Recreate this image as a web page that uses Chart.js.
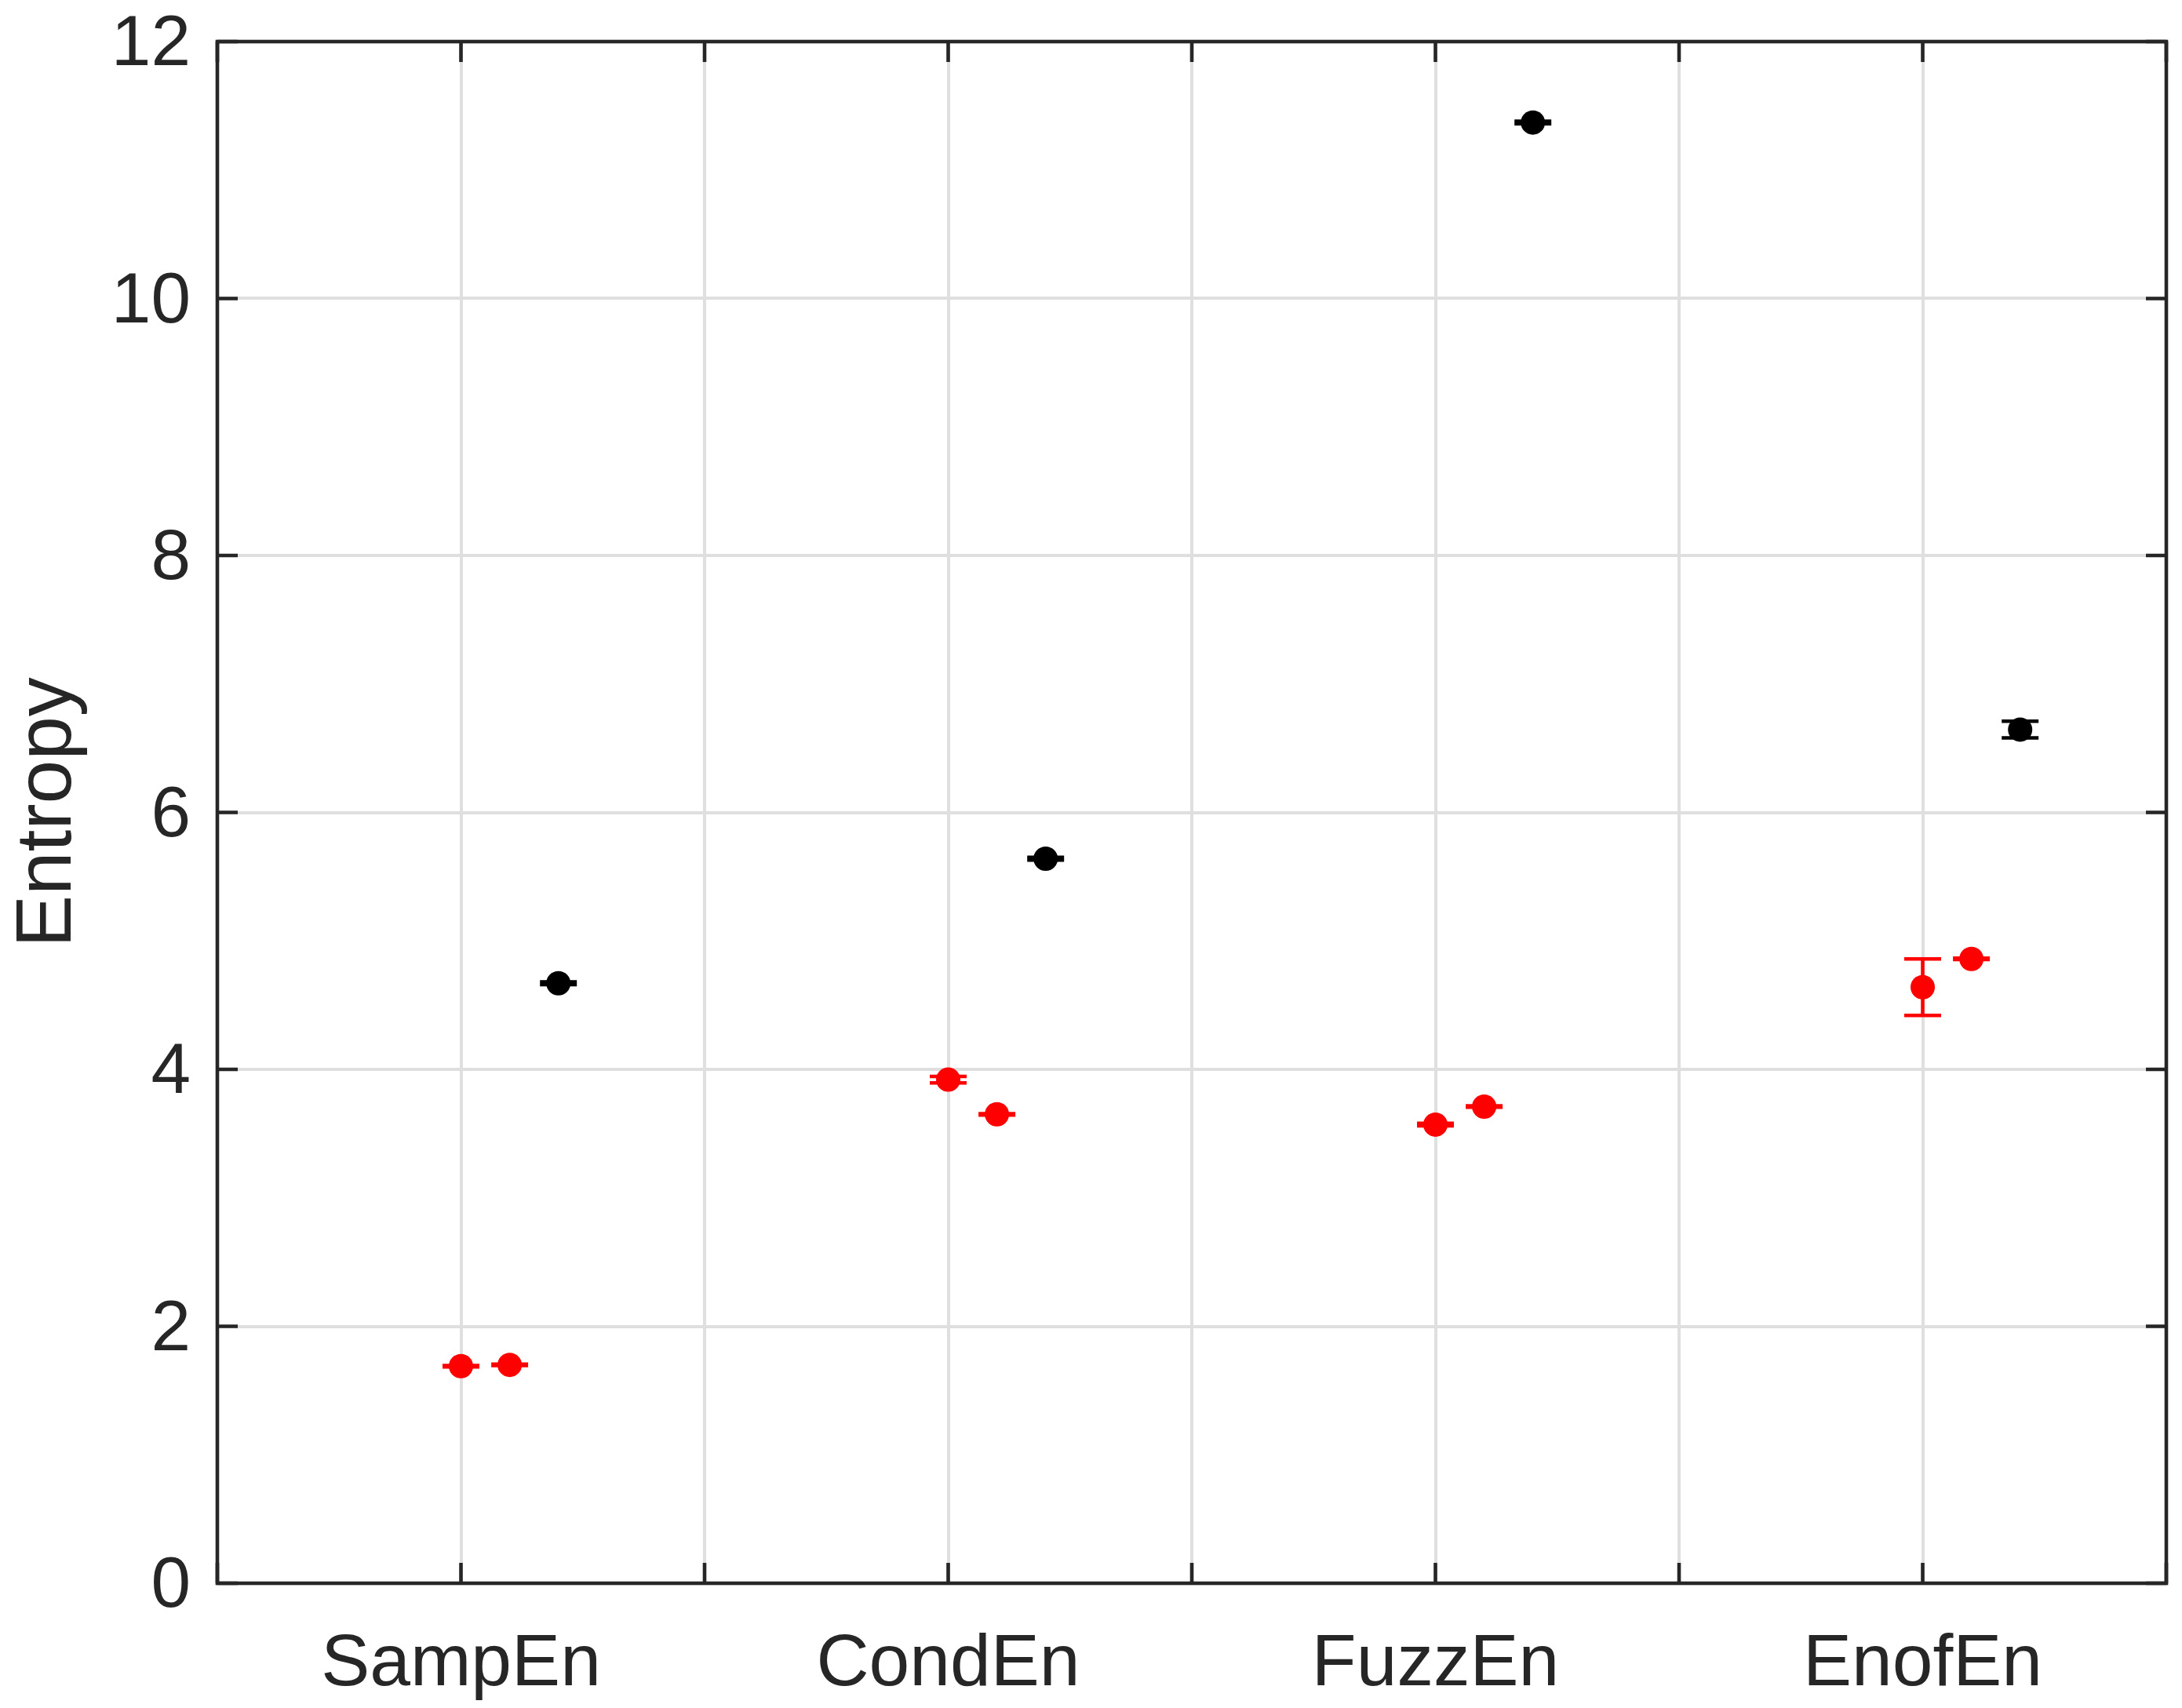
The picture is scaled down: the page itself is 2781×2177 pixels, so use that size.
<!DOCTYPE html>
<html>
<head>
<meta charset="utf-8">
<script src="https://cdn.jsdelivr.net/npm/chart.js@4.4.1/dist/chart.umd.min.js"></script>
<style>
  html, body { margin: 0; padding: 0; background: #ffffff; }
  #wrap { width: 2781px; height: 2177px; }
</style>
</head>
<body>
<div id="wrap"><canvas id="c" width="2781" height="2177"></canvas></div>
<script>
// ---- data ----
const categories = ['SampEn', 'CondEn', 'FuzzEn', 'EnofEn'];
const redAMean = [1.69, 3.92, 3.57, 4.64];
const redAErr  = [0.005, 0.025, 0.01, 0.22];
const redBMean = [1.70, 3.65, 3.71, 4.86];
const redBErr  = [0.005, 0.005, 0.005, 0.005];
const blackMean = [4.67, 5.64, 11.37, 6.645];
const blackErr  = [0.01, 0.01, 0.01, 0.065];
const seriesOffsets = [0, 0.1, 0.2];
const yTickValues = [0, 2, 4, 6, 8, 10, 12];

const AXIS_COLOR = '#262626';
const FONT = '"Liberation Sans", Arial, Helvetica, sans-serif';

function toPoints(means, offset) {
  return means.map((v, i) => ({ x: i + 1 + offset, y: v }));
}

const datasets = [
  { label: 'A', data: toPoints(redAMean, seriesOffsets[0]), errors: redAErr, color: '#ff0000' },
  { label: 'B', data: toPoints(redBMean, seriesOffsets[1]), errors: redBErr, color: '#ff0000' },
  { label: 'C', data: toPoints(blackMean, seriesOffsets[2]), errors: blackErr, color: '#000000' }
].map(d => ({
  label: d.label,
  data: d.data,
  errors: d.errors,
  backgroundColor: d.color,
  borderColor: d.color,
  pointRadius: 15.5,
  pointHoverRadius: 15.5,
  borderWidth: 0,
  showLine: false
}));

const errorBarPlugin = {
  id: 'errorBars',
  beforeDatasetsDraw(chart) {
    const ctx = chart.ctx;
    const xs = chart.scales.x, ys = chart.scales.y;
    const capHalf = 23.5;
    ctx.save();
    ctx.lineWidth = 4.6;
    ctx.lineCap = 'butt';
    chart.data.datasets.forEach(ds => {
      ctx.strokeStyle = ds.borderColor;
      ds.data.forEach((p, i) => {
        const e = ds.errors[i];
        const px = xs.getPixelForValue(p.x);
        const top = ys.getPixelForValue(p.y + e);
        const bot = ys.getPixelForValue(p.y - e);
        ctx.beginPath();
        ctx.moveTo(px, top); ctx.lineTo(px, bot);
        ctx.moveTo(px - capHalf, top); ctx.lineTo(px + capHalf, top);
        ctx.moveTo(px - capHalf, bot); ctx.lineTo(px + capHalf, bot);
        ctx.stroke();
      });
    });
    ctx.restore();
  }
};

const boxPlugin = {
  id: 'boxTicks',
  afterDraw(chart) {
    const ctx = chart.ctx;
    const a = chart.chartArea;
    const xs = chart.scales.x, ys = chart.scales.y;
    const tl = 26;
    ctx.save();
    ctx.strokeStyle = AXIS_COLOR;
    ctx.lineWidth = 4.6;
    ctx.lineCap = 'butt';
    ctx.beginPath();
    xs.ticks.forEach(t => {
      const px = xs.getPixelForValue(t.value);
      ctx.moveTo(px, a.bottom); ctx.lineTo(px, a.bottom - tl);
      ctx.moveTo(px, a.top); ctx.lineTo(px, a.top + tl);
    });
    ys.ticks.forEach(t => {
      const py = ys.getPixelForValue(t.value);
      ctx.moveTo(a.left, py); ctx.lineTo(a.left + tl, py);
      ctx.moveTo(a.right, py); ctx.lineTo(a.right - tl, py);
    });
    ctx.stroke();
    ctx.lineJoin = 'miter';
    ctx.strokeRect(a.left, a.top, a.right - a.left, a.bottom - a.top);
    ctx.restore();
  }
};

function zeroPad(s) {
  s.paddingTop = 0; s.paddingBottom = 0; s.paddingLeft = 0; s.paddingRight = 0;
}

new Chart(document.getElementById('c'), {
  type: 'scatter',
  data: { datasets },
  plugins: [errorBarPlugin, boxPlugin],
  options: {
    responsive: false,
    animation: false,
    devicePixelRatio: 1,
    layout: { padding: { left: 0, right: 20, top: 53, bottom: 0 } },
    plugins: { legend: { display: false }, tooltip: { enabled: false } },
    scales: {
      x: {
        type: 'linear',
        min: 0.5, max: 4.5,
        afterFit(s) { s.height = 159; zeroPad(s); },
        afterBuildTicks(s) {
          const t = [];
          for (let v = 0.5; v <= 4.5 + 1e-9; v += 0.5) t.push({ value: v });
          s.ticks = t;
        },
        grid: { color: '#dfdfdf', lineWidth: 4, drawTicks: false },
        border: { display: false },
        ticks: {
          autoSkip: false, maxRotation: 0, minRotation: 0,
          padding: 49,
          color: AXIS_COLOR,
          font: { family: FONT, size: 93, lineHeight: 1.2 },
          callback(v) {
            const i = Math.round(v);
            return Math.abs(v - i) < 1e-6 && i >= 1 && i <= categories.length ? categories[i - 1] : '';
          }
        }
      },
      y: {
        type: 'linear',
        min: 0, max: 12,
        afterFit(s) { s.width = 277; zeroPad(s); },
        afterBuildTicks(s) { s.ticks = yTickValues.map(v => ({ value: v })); },
        grid: { color: '#dfdfdf', lineWidth: 4, drawTicks: false },
        border: { display: false },
        title: {
          display: true, text: 'Entropy', color: AXIS_COLOR,
          font: { family: FONT, size: 100, lineHeight: 1.2 },
          padding: { top: 2, bottom: 0 }
        },
        ticks: {
          padding: 34,
          labelOffset: 5,
          color: AXIS_COLOR,
          font: { family: FONT, size: 91, lineHeight: 1.2 },
          callback(v) { return String(v); }
        }
      }
    }
  }
});
</script>
</body>
</html>
